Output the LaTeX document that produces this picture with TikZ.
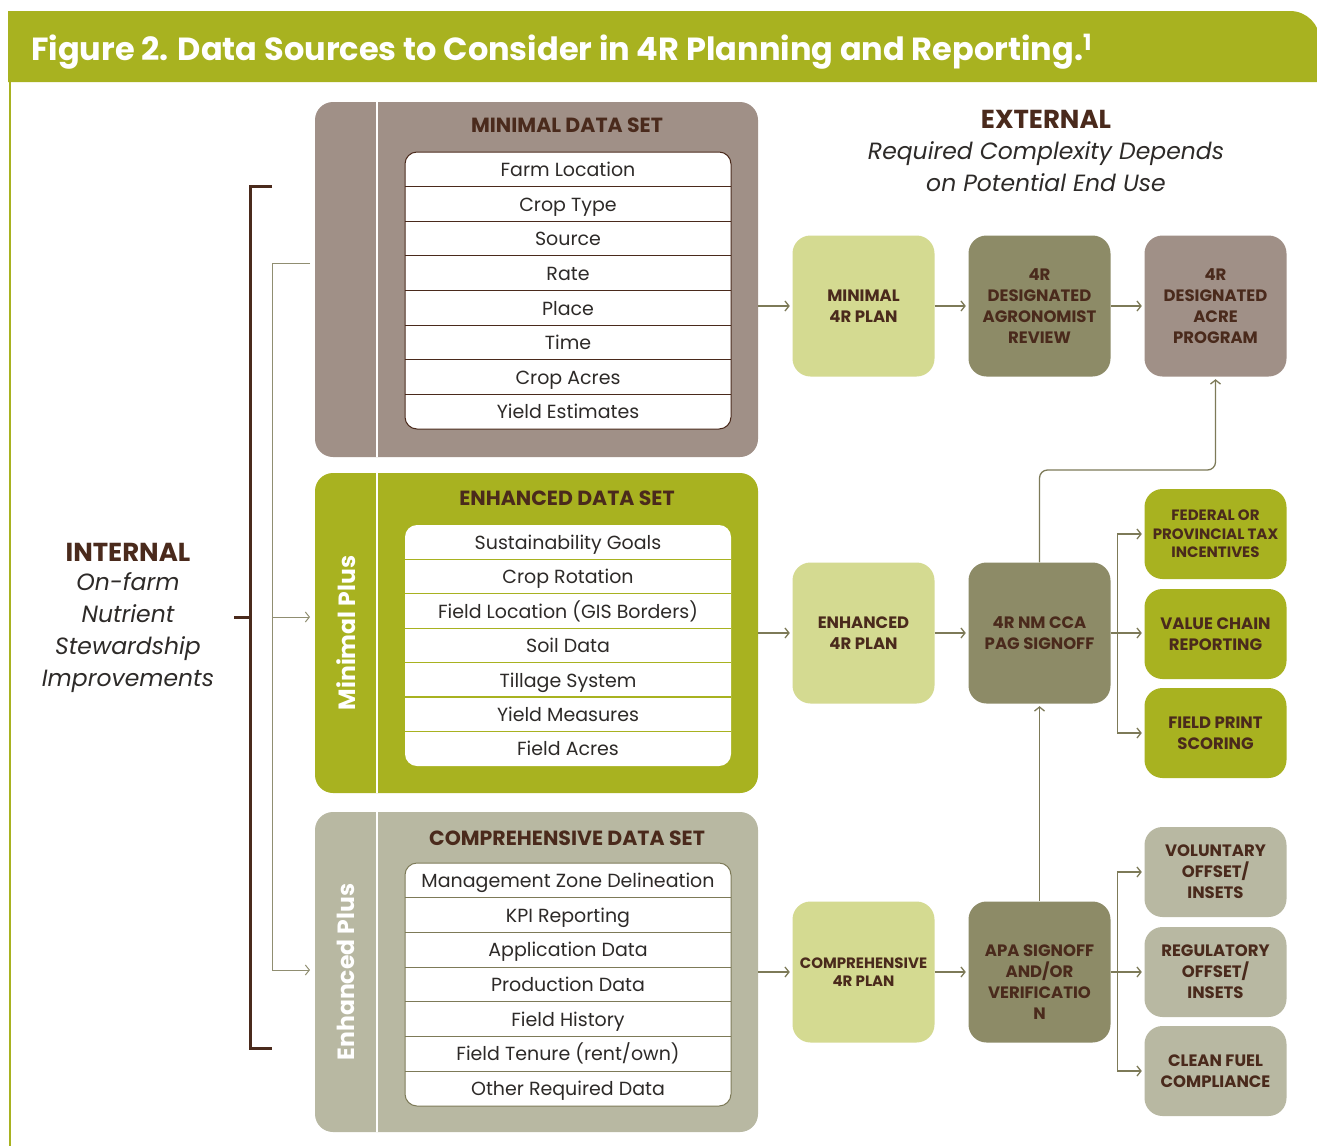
\documentclass[tikz,border=0pt]{standalone}
\usepackage{fontspec}
\setmainfont{Poppins}
\usetikzlibrary{arrows.meta}
\definecolor{hdrgreen}{RGB}{168,178,32}
\definecolor{taupe}{RGB}{160,144,135}
\definecolor{sage}{RGB}{184,184,162}
\definecolor{olivebox}{RGB}{141,139,103}
\definecolor{palegreen}{RGB}{212,218,145}
\definecolor{brownink}{RGB}{74,42,28}
\definecolor{lineol}{RGB}{125,122,88}
\definecolor{inkgray}{RGB}{45,42,40}
\tikzset{
    panel/.style = {rectangle, rounded corners=18pt, minimum width=443pt, inner sep=0pt},
    sheet/.style = {rectangle, rounded corners=12pt, fill=white, minimum width=326pt, inner sep=0pt, line width=1pt},
    rowtext/.style = {font=\fontsize{19}{21}\selectfont, text=inkgray, inner sep=0pt, text height=13pt, text depth=0pt},
    settitle/.style = {font=\bfseries\fontsize{20.5}{23}\selectfont, text=brownink},
    sidelabel/.style = {rotate=90, font=\bfseries\fontsize{23.5}{26}\selectfont, text=white},
    headtext/.style = {font=\bfseries\fontsize{26}{28}\selectfont, text=brownink},
    notetext/.style = {align=center, font=\itshape\fontsize{23.5}{32}\selectfont, text=inkgray},
    plan/.style = {rectangle, rounded corners=18pt, minimum width=142pt, minimum height=141pt, align=center, inner sep=2pt,
                   text=brownink, font=\bfseries\fontsize{16.5}{21}\selectfont},
    outcome/.style = {plan, minimum height=90pt},
    flow/.style = {draw=lineol, line width=1.3pt, -{Straight Barb[length=4pt,width=10pt]}, shorten >=2.5pt},
    link/.style = {draw=lineol, line width=1.3pt},
    tap/.style = {draw=lineol!85, line width=1pt},
    tapto/.style = {tap, -{Straight Barb[length=4pt,width=10pt]}},
    bracket/.style = {draw=brownink, line width=3pt},
    rulemin/.style = {draw=brownink, line width=1pt},
    ruleenh/.style = {draw=hdrgreen, line width=1.2pt},
    rulecomp/.style = {draw=lineol, line width=1pt}
}

\begin{document}
\begin{tikzpicture}[x=1pt, y=-1pt]
\useasboundingbox[fill=white] (0,0) rectangle (1317,1146);
% heading band and frame
\fill[hdrgreen] (8,82) -- (8,11) -- (1290,11) arc[start angle=-90, end angle=0, radius=30] -- (1320,82) -- cycle;
\draw[hdrgreen, line width=2.5pt] (10,82) -- (10,1146);
\node[anchor=base west, inner sep=0pt, text=white, font=\bfseries\fontsize{32}{36}\selectfont] (title) at (31,60)
    {Figure 2. Data Sources to Consider in 4R Planning and Reporting.\textsuperscript{1}};
%
% data set panels
\node[panel, fill=taupe, minimum height=355pt] (pmin) at (536.5,279.5) {};
\node[panel, fill=hdrgreen, minimum height=320pt] (penh) at (536.5,633) {};
\node[panel, fill=sage, minimum height=320pt] (pcomp) at (536.5,972) {};
\draw[white, line width=1.2pt] (377,102) -- (377,457);
\draw[white, line width=1.2pt] (377,473) -- (377,793);
\draw[white, line width=1.2pt] (377,812) -- (377,1132);
\node[sidelabel] (plusmin) at (346,633) {Minimal Plus};
\node[sidelabel] (plusenh) at (346,972) {Enhanced Plus};
\node[settitle] (tmin) at (567,125) {MINIMAL DATA SET};
\node[settitle] (tenh) at (567,498) {ENHANCED DATA SET};
\node[settitle] (tcomp) at (567,838) {COMPREHENSIVE DATA SET};
%
\node[sheet, draw=brownink, minimum height=277pt] (smin) at (568,290.5) {};
\foreach \i in {1,...,7}
    \draw[rulemin] (405,{152+34.6*\i}) -- (731,{152+34.6*\i});
\foreach \txt [count=\i] in {Farm Location, Crop Type, Source, Rate, Place, Time, Crop Acres, Yield Estimates}
    \node[rowtext] (min\i) at (568,{152+34.6*\i-16.5}) {\txt};
%
\node[sheet, minimum height=241pt] (senh) at (568,645.5) {};
\foreach \i in {1,...,6}
    \draw[ruleenh] (405,{525+34.4*\i}) -- (731,{525+34.4*\i});
\foreach \txt [count=\i] in {Sustainability Goals, Crop Rotation, Field Location (GIS Borders), Soil Data, Tillage System, Yield Measures, Field Acres}
    \node[rowtext] (enh\i) at (568,{525+34.4*\i-16.5}) {\txt};
%
\node[sheet, draw=lineol, minimum height=243pt] (scomp) at (568,984.5) {};
\foreach \i in {1,...,6}
    \draw[rulecomp] (405,{863+34.7*\i}) -- (731,{863+34.7*\i});
\foreach \txt [count=\i] in {Management Zone Delineation, KPI Reporting, Application Data, Production Data, Field History, Field Tenure (rent/own), Other Required Data}
    \node[rowtext] (comp\i) at (568,{863+34.7*\i-16.8}) {\txt};
%
% internal side
\node[headtext] (intl) at (128,552) {INTERNAL};
\node[notetext] (intnote) at (128,633) {On-farm\\Nutrient\\Stewardship\\Improvements};
\draw[bracket] (272,186) -- (250,186) -- (250,1048) -- (272,1048);
\draw[bracket] (234,617) -- (250,617);
\coordinate (tapin) at (310,263);
\coordinate (spine) at (272,263);
\coordinate (intoenh) at (310,617);
\coordinate (intocomp) at (310,970);
\draw[tapto] (tapin) -- (spine) |- (intocomp);
\draw[tapto] (spine |- intoenh) -- (intoenh);
%
% external side
\node[headtext] (extl) at (1046,119) {EXTERNAL};
\node[notetext] (extnote) at (1046,167) {Required Complexity Depends\\on Potential End Use};
%
\node[plan, fill=palegreen] (minplan) at (863.5,306) {MINIMAL\\4R PLAN};
\node[plan, fill=palegreen] (enhplan) at (863.5,633) {ENHANCED\\4R PLAN};
\node[plan, fill=palegreen, font=\bfseries\fontsize{15}{18}\selectfont] (compplan) at (863.5,972) {COMPREHENSIVE\\4R PLAN};
\node[plan, fill=olivebox] (review) at (1039.5,306) {4R\\DESIGNATED\\AGRONOMIST\\REVIEW};
\node[plan, fill=olivebox] (cca) at (1039.5,633) {4R NM CCA\\PAG SIGNOFF};
\node[plan, fill=olivebox, text height=95pt, text depth=0pt] (apa) at (1039.5,972) {APA SIGNOFF\\AND/OR\\VERIFICATIO\\N};
\node[plan, fill=taupe] (acre) at (1215.5,306) {4R\\DESIGNATED\\ACRE\\PROGRAM};
\node[outcome, fill=hdrgreen, font=\bfseries\fontsize{15}{18.5}\selectfont] (taxinc) at (1215.5,534) {FEDERAL OR\\PROVINCIAL TAX\\INCENTIVES};
\node[outcome, fill=hdrgreen] (chain) at (1215.5,634) {VALUE CHAIN\\REPORTING};
\node[outcome, fill=hdrgreen] (fprint) at (1215.5,733) {FIELD PRINT\\SCORING};
\node[outcome, fill=sage] (volset) at (1215.5,872) {VOLUNTARY\\OFFSET/\\INSETS};
\node[outcome, fill=sage] (regset) at (1215.5,972) {REGULATORY\\OFFSET/\\INSETS};
\node[outcome, fill=sage] (cfuel) at (1215.5,1071) {CLEAN FUEL\\COMPLIANCE};
%
\draw[flow] (pmin.east |- minplan.west) -- (minplan.west);
\draw[flow] (penh.east |- enhplan.west) -- (enhplan.west);
\draw[flow] (pcomp.east |- compplan.west) -- (compplan.west);
\draw[flow] (minplan) -- (review);
\draw[flow] (review) -- (acre);
\draw[flow] (enhplan) -- (cca);
\draw[flow] (compplan) -- (apa);
\coordinate (forkhi) at (1117.5,633);
\coordinate (forklo) at (1117.5,972);
\draw[link] (cca.east) -- (forkhi);
\draw[flow] (forkhi) |- (taxinc.west);
\draw[flow] (forkhi) -- (forkhi -| chain.west);
\draw[flow] (forkhi) |- (fprint.west);
\draw[link] (apa.east) -- (forklo);
\draw[flow] (forklo) |- (volset.west);
\draw[flow] (forklo) -- (regset.west);
\draw[flow] (forklo) |- (cfuel.west);
\draw[flow] (apa.north) -- (cca.south);
\coordinate (jog) at (1039.5,470);
\draw[flow, rounded corners=8pt] (cca.north) -- (jog) -| (acre.south);
\end{tikzpicture}
\end{document}
